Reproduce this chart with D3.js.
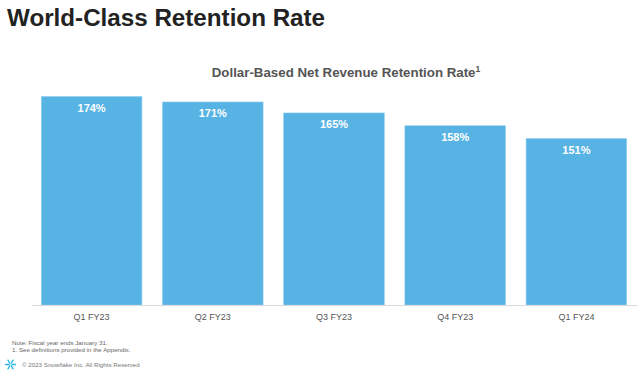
<!DOCTYPE html>
<html>
<head>
<meta charset="utf-8">
<script src="https://cdn.jsdelivr.net/npm/d3@7"></script>
<style>
  html, body { margin: 0; padding: 0; background: #fff; }
  svg { display: block; font-family: "Liberation Sans", Arial, sans-serif; }
</style>
</head>
<body>
<div id="chart"></div>
<script>
// Dollar-based net revenue retention by quarter
const quarters = ['Q1 FY23', 'Q2 FY23', 'Q3 FY23', 'Q4 FY23', 'Q1 FY24'];
const retention = [174, 171, 165, 158, 151];
const footnotes = ['Note: Fiscal year ends January 31.', '1.  See definitions provided in the Appendix.'];

const width = 640, height = 371;

const svg = d3.select('#chart').append('svg')
  .attr('width', width)
  .attr('height', height);

// page title
svg.append('text')
  .attr('x', 7)
  .attr('y', 26)
  .attr('font-size', 24.2)
  .attr('font-weight', 'bold')
  .attr('fill', '#222')
  .text('World-Class Retention Rate');

// chart title with superscript
const sub = svg.append('text')
  .attr('x', 346)
  .attr('y', 77)
  .attr('text-anchor', 'middle')
  .attr('font-size', 13.3)
  .attr('font-weight', 'bold')
  .attr('fill', '#555');
sub.append('tspan').text('Dollar-Based Net Revenue Retention Rate');
sub.append('tspan').attr('font-size', 8.5).attr('dy', -5).text('1');

const x = d3.scaleBand()
  .domain(quarters)
  .range([31, 637])
  .paddingInner(0.17)
  .paddingOuter(0.085);

// bars sit on a truncated axis
const y = d3.scaleLinear()
  .domain([60, 174])
  .range([305, 96.5]);

const data = quarters.map((q, i) => ({ q, v: retention[i] }));

svg.append('g')
  .selectAll('rect')
  .data(data)
  .enter()
  .append('rect')
  .attr('x', d => x(d.q))
  .attr('y', d => y(d.v))
  .attr('width', x.bandwidth())
  .attr('height', d => y.range()[0] - y(d.v))
  .attr('fill', '#57b3e3')
  .attr('stroke', '#8fcdee')
  .attr('stroke-width', 0.6);

svg.append('g')
  .selectAll('text')
  .data(data)
  .enter()
  .append('text')
  .attr('x', d => x(d.q) + x.bandwidth() / 2)
  .attr('y', d => y(d.v) + 15)
  .attr('text-anchor', 'middle')
  .attr('font-size', 11)
  .attr('font-weight', 'bold')
  .attr('fill', '#fff')
  .text(d => d.v + '%');

// baseline axis
const axis = svg.append('g')
  .attr('transform', `translate(0,${y.range()[0]})`)
  .call(d3.axisBottom(x).tickSize(0).tickPadding(9));
axis.select('.domain').attr('stroke', '#d9d9d9').attr('stroke-width', 1.2);
axis.selectAll('text')
  .attr('font-size', 9)
  .attr('fill', '#555')
  .attr('font-family', '"Liberation Sans", Arial, sans-serif');

// footnotes
svg.append('g')
  .selectAll('text')
  .data(footnotes)
  .enter()
  .append('text')
  .attr('x', 12)
  .attr('y', (d, i) => 344.5 + i * 7.5)
  .attr('font-size', 6.2)
  .attr('fill', '#666')
  .text(d => d);

// snowflake mark
const flake = svg.append('g')
  .attr('transform', 'translate(10.5,364.5)')
  .attr('stroke', '#29b5e8')
  .attr('stroke-width', 1.3)
  .attr('stroke-linecap', 'round');
d3.range(6).forEach(i => {
  const a = i * Math.PI / 3;
  flake.append('line')
    .attr('x1', Math.cos(a) * 1.5).attr('y1', Math.sin(a) * 1.5)
    .attr('x2', Math.cos(a) * 5).attr('y2', Math.sin(a) * 5);
});

svg.append('text')
  .attr('x', 22)
  .attr('y', 367)
  .attr('font-size', 6.2)
  .attr('fill', '#777')
  .text('© 2023 Snowflake Inc. All Rights Reserved');
</script>
</body>
</html>
